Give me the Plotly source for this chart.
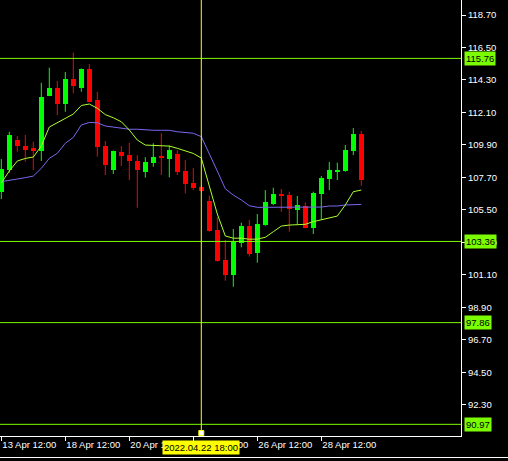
import plotly.graph_objects as go

# ---- data (H6 candles, 13 Apr 12:00 .. 29 Apr 18:00) ----
opens = [106.73, 108.20, 110.23, 109.82, 109.71, 109.49, 113.23, 113.77, 112.69, 114.36,
         113.77, 115.04, 112.94, 109.82, 108.20, 109.44, 109.21, 108.83, 108.08, 108.69,
         109.08, 108.94, 109.28, 108.13, 107.32, 107.05, 106.12, 104.13, 102.10, 101.08,
         103.27, 104.40, 102.58, 104.47, 105.90, 106.57, 106.50, 105.49, 105.76, 104.29,
         106.57, 107.59, 108.06, 108.13, 109.51, 110.64]
highs = [108.94, 110.79, 110.50, 110.57, 110.12, 114.11, 115.13, 114.23, 114.84, 116.15,
         115.08, 115.38, 113.50, 110.16, 109.52, 109.82, 110.05, 109.21, 109.06, 110.01,
         110.69, 109.85, 109.55, 108.88, 108.33, 107.12, 106.46, 105.00, 103.46, 104.20,
         104.63, 104.81, 105.22, 106.84, 107.00, 106.91, 106.73, 106.44, 106.01, 106.73,
         107.79, 108.74, 108.70, 109.89, 111.04, 110.84]
lows = [106.23, 108.02, 109.44, 108.76, 108.20, 108.81, 113.20, 111.92, 112.15, 113.40,
        113.50, 112.80, 109.10, 107.86, 107.93, 108.47, 107.52, 105.64, 107.68, 108.42,
        107.86, 107.70, 107.86, 106.62, 106.84, 106.70, 104.02, 102.00, 100.70, 100.29,
        102.96, 102.33, 101.92, 104.42, 105.83, 105.37, 104.02, 104.54, 104.25, 103.86,
        104.86, 106.84, 107.52, 108.08, 109.21, 107.14]
closes = [108.27, 110.57, 109.85, 109.55, 109.49, 113.16, 113.77, 112.65, 114.36, 113.91,
          115.04, 112.83, 109.78, 108.54, 109.49, 109.17, 108.81, 108.20, 108.74, 109.08,
          109.03, 109.55, 108.08, 107.25, 107.00, 106.78, 104.07, 102.05, 101.08, 103.34,
          104.38, 102.51, 104.52, 106.03, 106.57, 106.46, 105.56, 105.83, 104.29, 106.66,
          107.66, 108.20, 108.20, 109.55, 110.64, 107.54]
ma_fast = [107.32, 108.13, 108.81, 108.98, 109.08, 109.82, 111.11, 111.42, 111.70, 111.99,
           112.57, 112.67, 112.38, 111.95, 111.74, 111.47, 110.91, 110.23, 109.89, 109.87,
           109.87, 109.82, 109.67, 109.49, 109.32, 109.01, 107.05, 105.22, 103.73, 103.58,
           103.58, 103.51, 103.52, 103.64, 104.02, 104.40, 104.47, 104.52, 104.52, 104.70,
           104.81, 104.97, 105.08, 105.83, 106.73, 106.84]
ma_slow = [107.41, 107.52, 107.59, 107.68, 107.79, 108.31, 108.99, 109.33, 110.01, 110.41,
           111.25, 111.42, 111.40, 111.18, 111.09, 111.02, 110.96, 110.96, 110.91, 110.89,
           110.89, 110.89, 110.79, 110.73, 110.69, 110.46, 109.35, 108.13, 106.93, 106.50,
           106.17, 105.78, 105.67, 105.67, 105.67, 105.67, 105.67, 105.67, 105.67, 105.67,
           105.69, 105.76, 105.76, 105.83, 105.87, 105.87]

time_tick_idx = [0, 8, 16, 24, 32, 40]
time_tick_text = ["13 Apr 12:00", "18 Apr 12:00", "20 Apr 12:00", "22 Apr 12:00",
                  "26 Apr 12:00", "28 Apr 12:00"]
price_ticks = [118.70, 116.50, 114.30, 112.10, 109.90, 107.70, 105.50, 103.30,
               101.10, 98.90, 96.70, 94.50, 92.30]
levels = [115.76, 103.36, 97.86, 90.97]
cursor_idx = 25
cursor_label = "2022.04.22 18:00"

# ---- styling ----
UP = "#00FF00"
DN = "#FF0000"
LEVEL = "#7CFC00"
FONT = "Liberation Sans, Arial, sans-serif"

n = len(opens)
xs = list(range(n))

fig = go.Figure()

# wicks
for col, cond in ((UP, lambda o, c: c >= o), (DN, lambda o, c: c < o)):
    wx, wy = [], []
    for i in xs:
        if cond(opens[i], closes[i]):
            wx += [i, i, None]
            wy += [lows[i], highs[i], None]
    fig.add_trace(go.Scatter(x=wx, y=wy, mode="lines", line=dict(color=col, width=1),
                             hoverinfo="skip", showlegend=False))

# bodies
base = [min(o, c) for o, c in zip(opens, closes)]
height = [max(abs(c - o), 0.07) for o, c in zip(opens, closes)]
colors = [UP if c >= o else DN for o, c in zip(opens, closes)]
fig.add_trace(go.Bar(x=xs, y=height, base=base, width=0.62,
                     marker=dict(color=colors, line=dict(width=0)),
                     showlegend=False))

# moving averages
fig.add_trace(go.Scatter(x=xs, y=ma_slow, mode="lines", line=dict(color="#7B68EE", width=1),
                         showlegend=False))
fig.add_trace(go.Scatter(x=xs, y=ma_fast, mode="lines", line=dict(color="#ADFF2F", width=1),
                         showlegend=False))

shapes = []
for lv in levels:
    shapes.append(dict(type="line", xref="paper", x0=0, x1=1, yref="y", y0=lv, y1=lv,
                       line=dict(color=LEVEL, width=1), layer="above"))
# crosshair
shapes.append(dict(type="line", xref="x", x0=cursor_idx, x1=cursor_idx, yref="paper",
                   y0=0, y1=1, line=dict(color="#FFFF00", width=1), layer="above"))
shapes.append(dict(type="rect", xref="x", xsizemode="pixel", xanchor=cursor_idx,
                   x0=-2.5, x1=2.5, yref="paper", ysizemode="pixel", yanchor=0,
                   y0=0.5, y1=5.5, fillcolor="white", line=dict(color="#FFFF00", width=1),
                   layer="above"))
# bottom window border
shapes.append(dict(type="line", xref="paper", x0=0, x1=508 / 461, yref="paper",
                   y0=-21.5 / 436, y1=-21.5 / 436, line=dict(color="white", width=1)))

annotations = []
for lv in levels:
    annotations.append(dict(x=1, xref="paper", xanchor="left", xshift=3, y=lv, yref="y",
                            text=f"{lv:.2f}", showarrow=False, bgcolor=LEVEL,
                            font=dict(color="black", size=9.5, family=FONT), borderpad=1))
annotations.append(dict(x=cursor_idx, xref="x", xanchor="center", y=0, yref="paper",
                        yanchor="top", yshift=-4, text=cursor_label, showarrow=False,
                        bgcolor="#FFFF00", font=dict(color="black", size=9.5, family=FONT),
                        borderpad=1))

fig.update_layout(
    width=508, height=461,
    margin=dict(l=0, r=47, t=0, b=25, pad=0),
    paper_bgcolor="black", plot_bgcolor="black",
    shapes=shapes, annotations=annotations,
    bargap=0, hovermode=False,
    xaxis=dict(range=[-0.1625, 57.4625], showgrid=False, zeroline=False,
               showline=True, linecolor="white", linewidth=1,
               ticks="outside", ticklen=4, tickcolor="white",
               tickvals=time_tick_idx, ticktext=time_tick_text,
               tickfont=dict(color="white", size=9.5, family=FONT),
               ticklabelshift=28, ticklabelstandoff=-4),
    yaxis=dict(side="right", range=[90.18, 119.716], showgrid=False, zeroline=False,
               showline=True, linecolor="white", linewidth=1,
               ticks="outside", ticklen=4, tickcolor="white",
               tickvals=price_ticks, ticktext=[f"{v:.2f}" for v in price_ticks],
               tickfont=dict(color="white", size=9.5, family=FONT),
               ticklabelstandoff=0),
)

fig.write_html("out.html", config={"displayModeBar": False},
               post_script="document.body.style.margin='0';document.body.style.background='black';document.body.style.overflow='hidden';")
